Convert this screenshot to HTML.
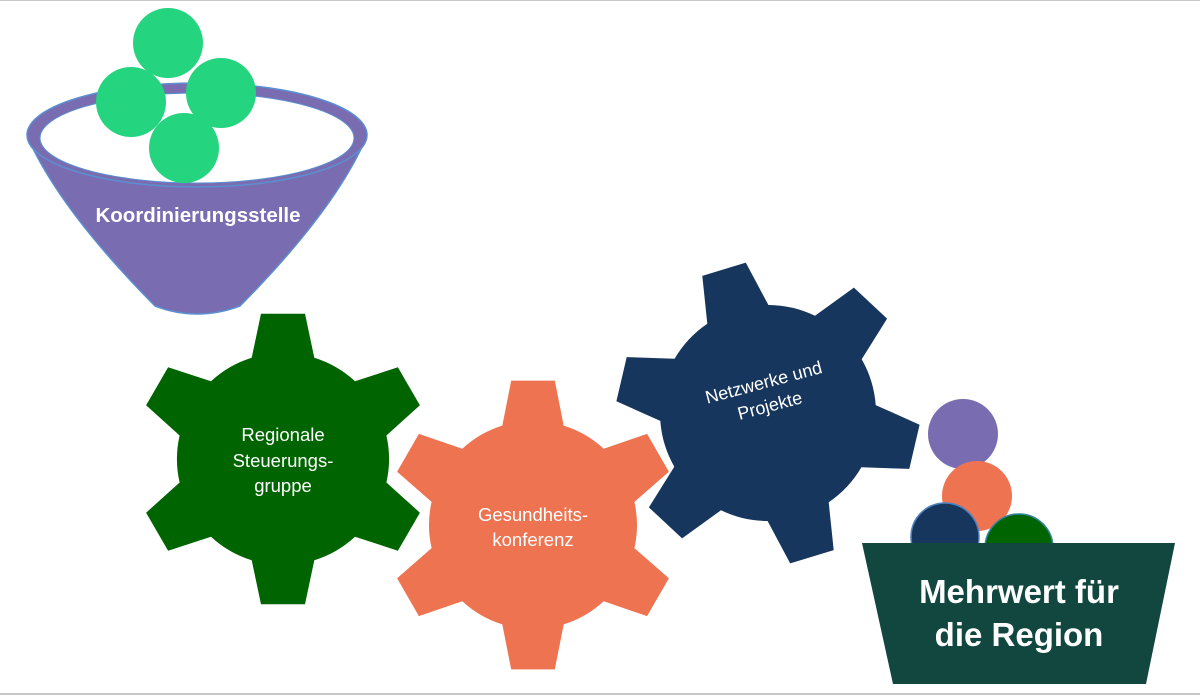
<!DOCTYPE html>
<html><head><meta charset="utf-8"><style>
html,body{margin:0;padding:0;background:#fff;}
svg{display:block}
text{font-family:"Liberation Sans",sans-serif;fill:#fff}
</style></head><body>
<svg id="s" width="1200" height="696" viewBox="0 0 1200 696" xmlns="http://www.w3.org/2000/svg">
<rect x="0" y="0" width="1200" height="696" fill="#fff"/>
<line x1="0" y1="0.5" x2="1200" y2="0.5" stroke="#c8c8c8"/>
<line x1="0" y1="694" x2="1200" y2="694" stroke="#c8c8c8" stroke-width="2"/>
<!-- funnel -->
<path d="M28 138 Q60 210 155 306 Q197 322 240 306 Q335 210 366 138 Z" fill="#7a6cb0" stroke="#5b8fd0" stroke-width="1.5"/>
<ellipse cx="197" cy="135" rx="170" ry="52" fill="#7a6cb0" stroke="#5b8fd0" stroke-width="1.5"/>
<ellipse cx="197" cy="138" rx="157" ry="45" fill="#fff" stroke="#5b8fd0" stroke-width="1"/>
<g fill="#24d47f">
<circle cx="168" cy="43" r="35"/>
<circle cx="131" cy="102" r="35"/>
<circle cx="221" cy="93" r="35"/>
<circle cx="184" cy="148" r="35"/>
</g>
<text x="198" y="222" text-anchor="middle" font-size="20.5" font-weight="bold">Koordinierungsstelle</text>
<g id="gears"></g>
<text x="283" y="441" text-anchor="middle" font-size="18.5">Regionale</text>
<text x="283" y="467" text-anchor="middle" font-size="18.5">Steuerungs-</text>
<text x="283" y="492" text-anchor="middle" font-size="18.5">gruppe</text>
<text x="533" y="521" text-anchor="middle" font-size="18.5">Gesundheits-</text>
<text x="533" y="546" text-anchor="middle" font-size="18.5">konferenz</text>
<g transform="rotate(-15 767 395)">
<text x="767" y="388" text-anchor="middle" font-size="18">Netzwerke und</text>
<text x="767" y="412" text-anchor="middle" font-size="18">Projekte</text>
</g>
<!-- bucket balls -->
<circle cx="963" cy="434" r="35" fill="#7a6cb0"/>
<circle cx="977" cy="496" r="35" fill="#ee7350"/>
<circle cx="945" cy="537" r="34" fill="#17365d" stroke="#4f81bd" stroke-width="1.5"/>
<circle cx="1019" cy="548" r="34" fill="#006400" stroke="#31859c" stroke-width="1.5"/>
<path d="M862 543 L1175 543 L1146 684 L893 684 Z" fill="#124740"/>
<text x="1019" y="603" text-anchor="middle" font-size="33" font-weight="bold">Mehrwert für</text>
<text x="1019" y="646" text-anchor="middle" font-size="33" font-weight="bold">die Region</text>
</svg>
<script>
function gear(cx,cy,ro,rb,rot,col){
 var p=[],n=6;
 for(var i=0;i<n;i++){
  var a=(rot+i*60)*Math.PI/180;
  var hb=0.30, ht=0.15;
  var pts=[[rb,a-hb],[ro,a-ht],[ro,a+ht],[rb,a+hb]];
  pts.forEach(function(q){p.push((cx+q[0]*Math.cos(q[1])).toFixed(1)+','+(cy+q[0]*Math.sin(q[1])).toFixed(1));});
 }
 var d='M'+p[0];
 for(var i=0;i<n;i++){
  d+=' L'+p[i*4]+' L'+p[i*4+1]+' L'+p[i*4+2]+' L'+p[i*4+3];
  var nx=p[((i+1)%n)*4];
  d+=' A'+rb+' '+rb+' 0 0 1 '+nx;
 }
 d+='Z';
 return '<path d="'+d+'" fill="'+col+'"/>';
}
document.getElementById('gears').innerHTML=
 gear(283,459,147,106,-90,'#006400')+
 gear(533,525,146,104,-90,'#ee7350')+
 gear(768,413,152,108,-107,'#17365d');
</script>
</body></html>
